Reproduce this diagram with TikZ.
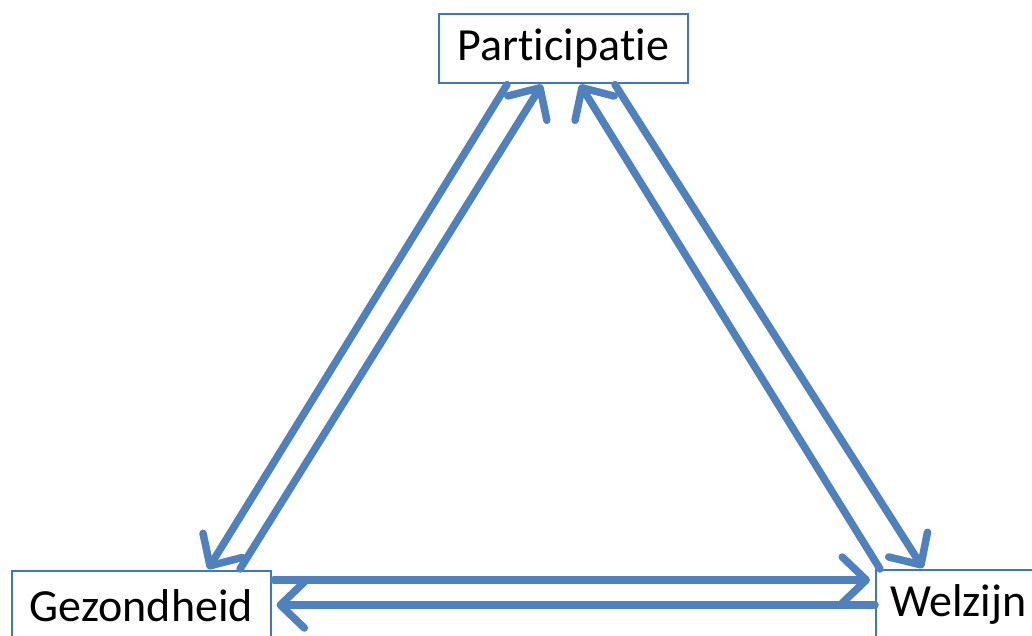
\documentclass[tikz,border=0pt]{standalone}
\usepackage{fontspec}
\setmainfont[Ligatures=NoCommon]{Carlito}
\usetikzlibrary{arrows.meta,calc}
\definecolor{arrowblue}{HTML}{4F81BD}
\definecolor{boxblue}{HTML}{3C78BE}
\begin{document}
\begin{tikzpicture}[x=1pt,y=-1pt,
  box/.style={draw=boxblue,line width=1.6pt,fill=white,inner sep=0pt,
    minimum height=69pt,anchor=north west,font=\fontsize{46}{55}\selectfont},
  link/.style={draw=arrowblue,line width=7.5pt,line cap=round,
    -{Straight Barb[length=24pt,width=46pt,round]}}
  ]
  \clip (0,0) rectangle (1032,636);
  \fill[white] (0,0) rectangle (1032,636);
  \node[box,minimum width=249pt] (P) at (438,13) {Participatie};
  \node[box,minimum width=259pt] (G) at (11,570) {Gezondheid};
  \node[box,minimum width=165pt] (W) at (875,569) {Welzijn};
  \draw[link] ($(P.south west)+(69,1)$) -- ($(G.north west)+(197,-1)$);
  \draw[link] ($(G.north west)+(229,-1)$) -- ($(P.south west)+(104,1)$);
  \draw[link] ($(W.north west)+(5,0)$) -- ($(P.south west)+(142,1)$);
  \draw[link] ($(P.south west)+(177,1)$) -- ($(W.north west)+(48,-1)$);
  \draw[link] ($(G.north east)+(2,10)$) -- ($(W.north west)+(-5,11)$);
  \draw[link] ($(W.north west)+(0,36)$) -- ($(G.north east)+(5,35)$);
\end{tikzpicture}
\end{document}
